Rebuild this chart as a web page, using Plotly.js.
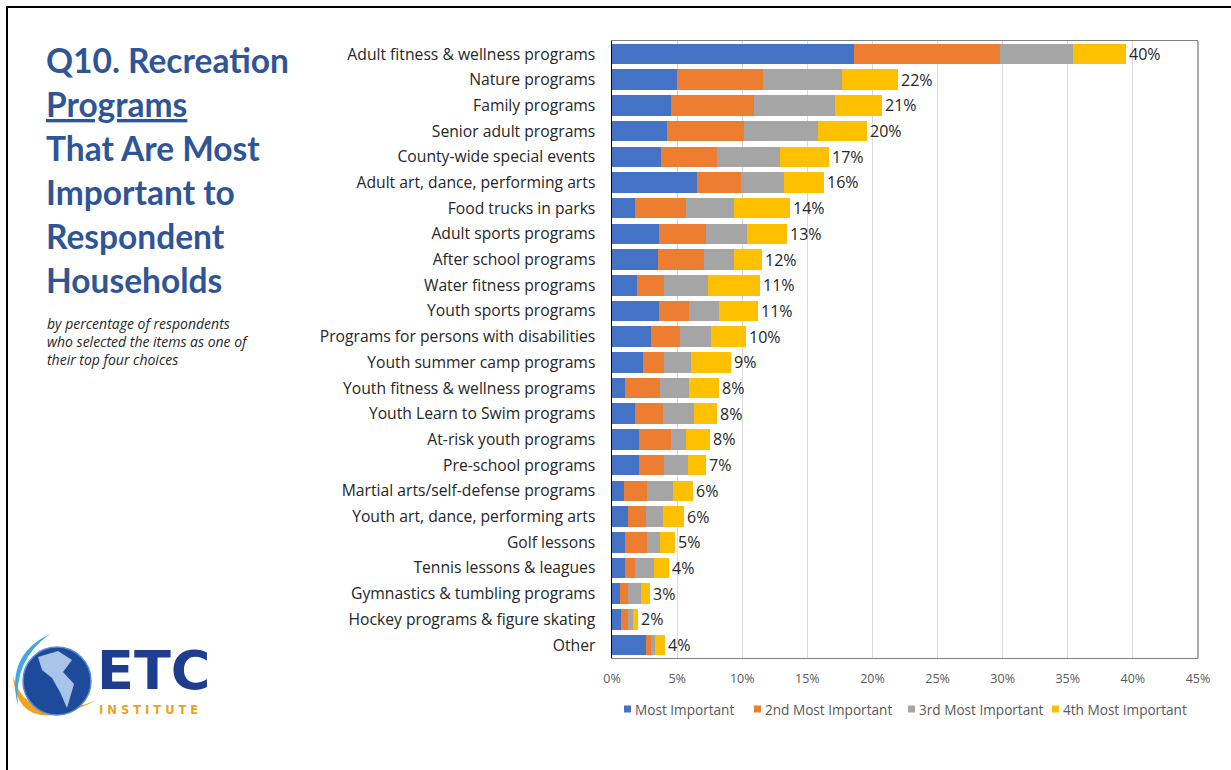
<!DOCTYPE html>
<html>
<head>
<meta charset="utf-8">
<script src="https://cdn.plot.ly/plotly-3.0.1.min.js"></script>
<style>
html,body{margin:0;padding:0;background:#fff;}
#chart{width:1231px;height:770px;}
</style>
</head>
<body>
<div id="chart"></div>
<script>
var categories = [
  "Adult fitness & wellness programs",
  "Nature programs",
  "Family programs",
  "Senior adult programs",
  "County-wide special events",
  "Adult art, dance, performing arts",
  "Food trucks in parks",
  "Adult sports programs",
  "After school programs",
  "Water fitness programs",
  "Youth sports programs",
  "Programs for persons with disabilities",
  "Youth summer camp programs",
  "Youth fitness & wellness programs",
  "Youth Learn to Swim programs",
  "At-risk youth programs",
  "Pre-school programs",
  "Martial arts/self-defense programs",
  "Youth art, dance, performing arts",
  "Golf lessons",
  "Tennis lessons & leagues",
  "Gymnastics & tumbling programs",
  "Hockey programs & figure skating",
  "Other"
];
var mostImportant   = [18.6,5.0,4.5,4.2,3.8,6.5,1.8,3.6,3.5,1.9,3.6,3.0,2.4,1.0,1.8,2.1,2.1,0.9,1.2,1.0,1.0,0.6,0.7,2.6];
var secondImportant = [11.2,6.6,6.4,5.9,4.3,3.4,3.9,3.6,3.6,2.1,2.3,2.2,1.6,2.7,2.1,2.4,1.9,1.8,1.4,1.7,0.8,0.6,0.5,0.4];
var thirdImportant  = [5.6,6.1,6.2,5.7,4.8,3.3,3.7,3.2,2.3,3.4,2.3,2.4,2.1,2.2,2.4,1.2,1.8,2.0,1.3,1.0,1.4,1.0,0.4,0.3];
var fourthImportant = [4.1,4.3,3.6,3.8,3.8,3.1,4.3,3.0,2.1,4.0,3.0,2.7,3.0,2.3,1.8,1.8,1.4,1.5,1.6,1.1,1.2,0.7,0.4,0.8];
var totalLabels = ["40%","22%","21%","20%","17%","16%","14%","13%","12%","11%","11%","10%","9%","8%","8%","8%","7%","6%","6%","5%","4%","3%","2%","4%"];
var seriesNames = ["Most Important","2nd Most Important","3rd Most Important","4th Most Important"];
var tickVals = [0,5,10,15,20,25,30,35,40,45];
var tickText = ["0%","5%","10%","15%","20%","25%","30%","35%","40%","45%"];
var titleLines = ["Q10. Recreation","<u>Programs</u>","That Are Most","Important to","Respondent","Households"];
var subtitleLines = ["by percentage of respondents","who selected the items as one of","their top four choices"];

var colors = ["#4472C4","#ED7D31","#A5A5A5","#FFC000"];
var allSeries = [mostImportant, secondImportant, thirdImportant, fourthImportant];

var W = 1231, H = 770;
var L = 612, R = 1198, T = 41, B = 658;
function px(x){ return (x - L) / (R - L); }
function py(y){ return (B - y) / (B - T); }

var FONT = "'Open Sans', sans-serif";
var TFONT = "Lato, sans-serif";

var traces = allSeries.map(function(s, i){
  return {
    type: "bar",
    orientation: "h",
    name: seriesNames[i],
    y: categories,
    x: s,
    marker: {color: colors[i]},
    hoverinfo: "x+y+name"
  };
});

var annotations = [];
categories.forEach(function(c, i){
  var tot = mostImportant[i] + secondImportant[i] + thirdImportant[i] + fourthImportant[i];
  annotations.push({
    x: tot, y: c, xref: "x", yref: "y",
    text: totalLabels[i], showarrow: false,
    xanchor: "left", yanchor: "middle", xshift: 1,
    font: {family: FONT, size: 16, color: "#262626"}
  });
});

var titleY = [60, 104, 148, 192, 236, 280];
titleLines.forEach(function(t, i){
  annotations.push({
    x: px(44), y: py(titleY[i]), xref: "paper", yref: "paper",
    text: "<b>" + t + "</b>", showarrow: false,
    xanchor: "left", yanchor: "middle",
    font: {family: TFONT, size: 33.5, color: "#2F5597"}
  });
});
var subY = [323, 341, 359];
subtitleLines.forEach(function(t, i){
  annotations.push({
    x: px(45), y: py(subY[i]), xref: "paper", yref: "paper",
    text: "<i>" + t + "</i>", showarrow: false,
    xanchor: "left", yanchor: "middle",
    font: {family: FONT, size: 14, color: "#262626"}
  });
});

// manual legend
var legSquareX = [624, 754, 908, 1052];
var legY = 709;
var shapes = [];
seriesNames.forEach(function(n, i){
  shapes.push({type: "rect", xref: "paper", yref: "paper",
    x0: px(legSquareX[i]), x1: px(legSquareX[i] + 7), y0: py(legY - 3.5), y1: py(legY + 3.5),
    fillcolor: colors[i], line: {width: 0}});
  annotations.push({
    x: px(legSquareX[i] + 9), y: py(legY), xref: "paper", yref: "paper",
    text: n, showarrow: false, xanchor: "left", yanchor: "middle",
    font: {family: FONT, size: 13.6, color: "#595959"}
  });
});

// logo text
annotations.push({
  x: px(95), y: py(670), xref: "paper", yref: "paper",
  text: "<b>ETC</b>", showarrow: false, xanchor: "left", yanchor: "middle",
  font: {family: "'DejaVu Sans', sans-serif", size: 54, color: "#1F3D8F"}
});
annotations.push({
  x: px(97), y: py(710), xref: "paper", yref: "paper",
  text: "<b>I N S T I T U T E</b>", showarrow: false, xanchor: "left", yanchor: "middle",
  font: {family: "'DejaVu Sans', sans-serif", size: 11.5, color: "#F0A020"}
});

shapes = shapes.concat([
  // outer frame
  {type: "line", xref: "paper", yref: "paper", x0: px(7), x1: px(7), y0: py(7), y1: py(772), line: {color: "#000", width: 2}},
  {type: "line", xref: "paper", yref: "paper", x0: px(6), x1: px(1235), y0: py(7), y1: py(7), line: {color: "#000", width: 2}},
  // plot frame right
  {type: "line", xref: "paper", yref: "paper", x0: 1, x1: 1, y0: 0, y1: 1, line: {color: "#7F7F7F", width: 1.3}},
  // logo: orange swoosh
  {type: "path", xref: "paper", yref: "paper",
   path: "M " + px(13) + " " + py(676) + " Q " + px(18) + " " + py(740) + " " + px(97) + " " + py(700) +
         " Q " + px(28) + " " + py(728) + " " + px(13) + " " + py(676) + " Z",
   fillcolor: "#F3A21B", line: {width: 0}},
  // light blue arc
  {type: "path", xref: "paper", yref: "paper",
   path: "M " + px(50) + " " + py(634) + " Q " + px(5) + " " + py(655) + " " + px(18) + " " + py(706) +
         " Q " + px(13) + " " + py(660) + " " + px(50) + " " + py(634) + " Z",
   fillcolor: "#3FA9E8", line: {width: 0}},
  // globe
  {type: "circle", xref: "paper", yref: "paper", x0: px(23), x1: px(91), y0: py(647), y1: py(715),
   fillcolor: "#1E4A9C", line: {color: "#5B8BD6", width: 1.5}},
  // continents (rough)
  {type: "path", xref: "paper", yref: "paper",
   path: "M " + px(38) + " " + py(657) + " L " + px(58) + " " + py(651) + " L " + px(72) + " " + py(660) +
         " L " + px(63) + " " + py(672) + " L " + px(74) + " " + py(684) + " L " + px(67) + " " + py(708) +
         " L " + px(60) + " " + py(692) + " L " + px(52) + " " + py(678) + " L " + px(42) + " " + py(670) + " Z",
   fillcolor: "#A9C4EA", line: {width: 0}}
]);

var layout = {
  width: W, height: H,
  paper_bgcolor: "#fff", plot_bgcolor: "#fff",
  margin: {l: L, r: W - R, t: T, b: H - B, pad: 0},
  barmode: "stack",
  bargap: 0.2,
  showlegend: false,
  xaxis: {
    range: [0, 45], tickvals: tickVals, ticktext: tickText,
    showgrid: true, gridcolor: "#D9D9D9", gridwidth: 1,
    showline: true, linecolor: "#7F7F7F", linewidth: 1.3, mirror: true,
    zeroline: false, ticks: "",
    ticklabelstandoff: 9,
    tickfont: {family: FONT, size: 12.5, color: "#595959"},
    fixedrange: true
  },
  yaxis: {
    type: "category", autorange: "reversed",
    showline: true, linecolor: "#000", linewidth: 1.5,
    showgrid: false, zeroline: false, ticks: "",
    ticklabelstandoff: 12,
    tickfont: {family: FONT, size: 15.7, color: "#262626"},
    fixedrange: true
  },
  annotations: annotations,
  shapes: shapes
};

Plotly.newPlot("chart", traces, layout, {displayModeBar: false, staticPlot: true});
</script>
</body>
</html>
